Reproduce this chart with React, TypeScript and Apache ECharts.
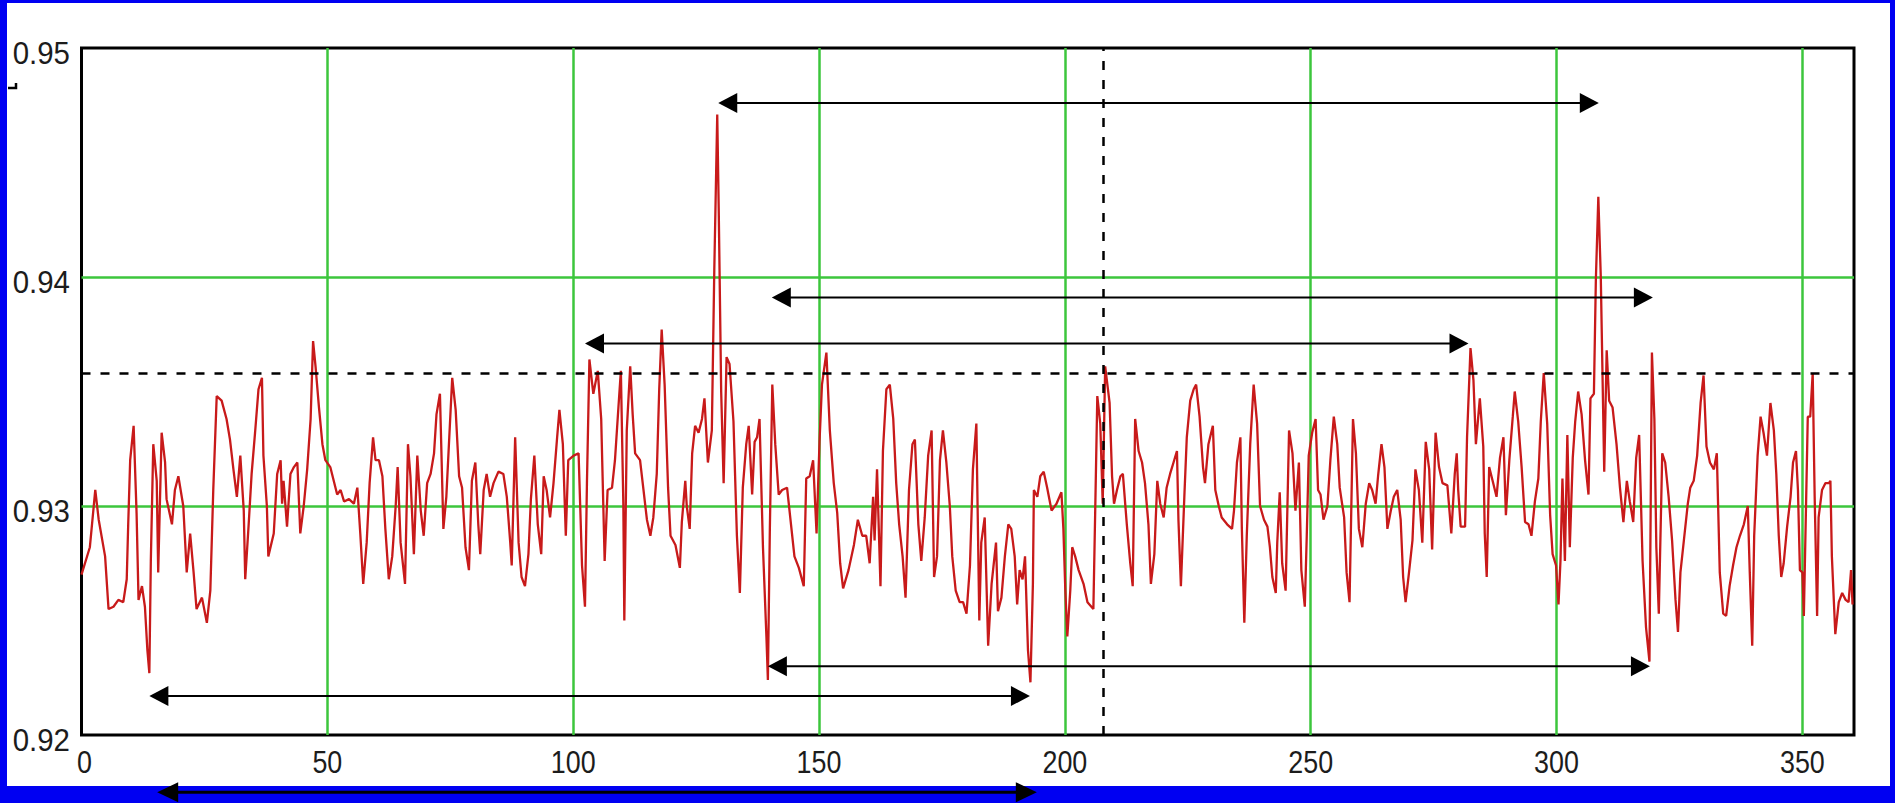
import React, { useEffect, useRef } from "react";
import * as echarts from "echarts";

// ---- data (x in samples, y in value units) ----
const trace000: number[][] = [
  [0, 0.927], [1.7, 0.9282], [2.8, 0.9307], [3.5, 0.9294], [4.8, 0.9278], [5.5, 0.9255], [6.5, 0.9256], [7.5, 0.9259],
  [8.5, 0.9258], [9.2, 0.9268], [9.5, 0.9292], [9.9, 0.932], [10.6, 0.9335], [11.2, 0.9297], [11.6, 0.9259], [12.3, 0.9265],
  [12.9, 0.9256], [13.4, 0.9237], [13.8, 0.9227], [14.1, 0.9276], [14.6, 0.9327], [15.3, 0.9311], [15.6, 0.9271], [16.3, 0.9332],
  [17.0, 0.9319], [17.3, 0.9303], [18.4, 0.9292], [19.0, 0.9307], [19.7, 0.9313], [20.7, 0.93], [21.4, 0.9271], [22.1, 0.9288],
  [22.8, 0.9271], [23.4, 0.9255], [24.5, 0.926], [25.5, 0.9249], [26.2, 0.9263], [26.8, 0.9307], [27.5, 0.9348], [28.5, 0.9346],
  [29.5, 0.9338], [30.2, 0.9329], [30.9, 0.9316], [31.6, 0.9304], [32.3, 0.9322], [33.0, 0.9298], [33.3, 0.9268], [34.0, 0.9292],
  [34.6, 0.9314], [35.3, 0.9332], [36.0, 0.9351], [36.7, 0.9356], [37.0, 0.9322], [37.7, 0.93], [38.0, 0.9278],
];
const trace040: number[][] = [
  [39.1, 0.9288], [39.8, 0.9314], [40.5, 0.932], [40.8, 0.9301], [41.1, 0.9311], [41.8, 0.9291], [42.5, 0.9314], [43.2, 0.9317],
  [43.9, 0.9319], [44.5, 0.9288], [45.2, 0.93], [45.9, 0.9316], [46.6, 0.9338], [47.1, 0.9372], [47.6, 0.9361], [48.3, 0.9343],
  [49.0, 0.9327], [49.6, 0.932], [50.6, 0.9317], [51.3, 0.9311], [52.0, 0.9305], [52.7, 0.9307], [53.4, 0.9302], [54.4, 0.9303],
  [55.4, 0.9301], [56.1, 0.9308], [56.7, 0.9288], [57.3, 0.9266], [58.0, 0.9284], [58.6, 0.931], [59.3, 0.933], [59.8, 0.932],
  [60.5, 0.932], [61.2, 0.9313], [61.8, 0.929], [62.5, 0.9268], [63.2, 0.9278], [63.9, 0.93], [64.3, 0.9317], [64.9, 0.9284],
  [65.8, 0.9266], [66.4, 0.9327], [66.9, 0.9313], [67.6, 0.9279], [68.3, 0.9322], [69.0, 0.9298], [69.6, 0.9287], [70.3, 0.931],
  [71.0, 0.9314], [71.7, 0.9323], [72.2, 0.934], [72.9, 0.9349], [73.6, 0.929], [74.2, 0.9304], [74.8, 0.933], [75.4, 0.9356],
  [76.1, 0.9342], [76.8, 0.9313], [77.4, 0.9308], [78.1, 0.9282], [78.8, 0.9272],
];
const trace080: number[][] = [
  [79.4, 0.9311], [80.1, 0.9319], [80.7, 0.9292], [81.1, 0.9279], [81.8, 0.9307], [82.4, 0.9314], [83.1, 0.9304], [83.8, 0.931],
  [84.8, 0.9315], [85.8, 0.9314], [86.5, 0.9304], [87.2, 0.9284], [87.5, 0.9274], [88.2, 0.933], [88.9, 0.9284], [89.5, 0.9269],
  [90.2, 0.9265], [90.9, 0.9279], [91.4, 0.9303], [92.1, 0.9322], [92.8, 0.9292], [93.5, 0.9279], [94.0, 0.9313], [94.6, 0.9307],
  [95.3, 0.9295], [96.0, 0.931], [96.7, 0.9329], [97.2, 0.9342], [97.9, 0.9327], [98.5, 0.9287], [99.0, 0.932], [100.1, 0.9322],
  [101.1, 0.9323], [101.8, 0.9274], [102.4, 0.9256], [102.8, 0.931], [103.3, 0.9364], [104.1, 0.9349], [105.0, 0.9359], [105.7, 0.9338],
  [106.4, 0.9276], [107.0, 0.9307], [107.9, 0.9308], [108.5, 0.932], [109.2, 0.9343], [109.7, 0.9359], [110.2, 0.9301], [110.4, 0.925],
  [110.9, 0.9333], [111.6, 0.9361], [112.1, 0.934], [112.6, 0.9323], [113.6, 0.932], [114.3, 0.9307], [115.0, 0.9294], [115.7, 0.9287],
  [116.3, 0.9295], [117.0, 0.9314], [117.5, 0.9351], [118.0, 0.9377], [118.6, 0.9353], [119.3, 0.9308],
];
const trace120: number[][] = [
  [119.8, 0.9287], [120.8, 0.9283], [121.7, 0.9273], [122.1, 0.9293], [122.8, 0.9311], [123.1, 0.93], [123.7, 0.929], [124.2, 0.9323],
  [124.8, 0.9335], [125.5, 0.9332], [126.2, 0.9338], [126.7, 0.9347], [127.4, 0.9319], [128.2, 0.9333], [128.7, 0.9403], [129.3, 0.9471],
  [129.6, 0.943], [130.1, 0.935], [130.6, 0.931], [131.2, 0.9365], [131.8, 0.9362], [132.6, 0.9337], [133.3, 0.9287], [133.9, 0.9262],
  [134.5, 0.9308], [135.2, 0.9327], [135.7, 0.9335], [136.4, 0.9305], [136.9, 0.9328], [137.4, 0.933], [137.9, 0.9338], [138.6, 0.9282],
  [139.3, 0.9243], [139.6, 0.9224], [140.0, 0.929], [140.5, 0.9353], [141.1, 0.9327], [141.8, 0.9305], [142.5, 0.9307], [143.5, 0.9308],
  [144.3, 0.9292], [145.0, 0.9278], [145.9, 0.9273], [146.9, 0.9265], [147.4, 0.9312], [148.1, 0.9313], [148.8, 0.932], [149.5, 0.9288],
  [150.1, 0.9328], [150.6, 0.9353], [151.5, 0.9367], [152.2, 0.9333], [153.0, 0.931], [153.7, 0.9297], [154.3, 0.9275], [154.9, 0.9264],
  [156.0, 0.9272], [157.1, 0.9283], [157.9, 0.9294], [158.8, 0.9287],
];
const trace160: number[][] = [
  [159.6, 0.9287], [160.3, 0.9275], [161.0, 0.9304], [161.3, 0.9285], [161.8, 0.9316], [162.5, 0.9265], [163.0, 0.9324], [163.7, 0.9351],
  [164.4, 0.9353], [165.1, 0.9338], [165.7, 0.931], [166.3, 0.9292], [167.0, 0.9278], [167.6, 0.926], [168.3, 0.9307], [169.0, 0.9327],
  [169.5, 0.9329], [170.2, 0.9292], [170.8, 0.9276], [171.5, 0.9295], [172.2, 0.9322], [172.9, 0.9333], [173.4, 0.9269], [174.0, 0.9278],
  [174.6, 0.932], [175.2, 0.9333], [175.9, 0.9319], [176.6, 0.93], [177.1, 0.9278], [177.8, 0.9263], [178.6, 0.9258], [179.3, 0.9258],
  [180.0, 0.9253], [180.7, 0.9274], [181.3, 0.9316], [182.0, 0.9336], [182.6, 0.925], [183.0, 0.9284], [183.7, 0.9295], [184.4, 0.9239],
  [185.1, 0.9266], [186.0, 0.9284], [186.4, 0.9254], [187.1, 0.926], [187.8, 0.9278], [188.5, 0.9292], [189.1, 0.929], [189.8, 0.9278],
  [190.3, 0.9257], [190.8, 0.9272], [191.4, 0.9268], [191.9, 0.9278], [192.5, 0.9237], [193.0, 0.9223], [193.5, 0.9266], [193.7, 0.9307],
  [194.4, 0.9304], [195.0, 0.9313], [195.7, 0.9315], [196.4, 0.9308], [197.3, 0.9298], [198.3, 0.9301], [199.3, 0.9306],
];
const trace200: number[][] = [
  [199.7, 0.929], [200.1, 0.9263], [200.5, 0.9243], [201.1, 0.9263], [201.5, 0.9282], [202.1, 0.9278], [202.8, 0.9272], [203.8, 0.9266],
  [204.6, 0.9258], [205.8, 0.9255], [206.2, 0.9301], [206.6, 0.9348], [207.2, 0.9336], [207.7, 0.9301], [208.2, 0.9361], [209.1, 0.9345],
  [209.6, 0.9313], [210.0, 0.9301], [210.6, 0.9307], [211.3, 0.9313], [211.8, 0.9314], [212.6, 0.9292], [213.3, 0.9275], [213.8, 0.9265],
  [214.3, 0.9338], [215.0, 0.9324], [215.7, 0.9319], [216.3, 0.931], [217.0, 0.9292], [217.5, 0.9266], [218.2, 0.9279], [218.8, 0.9311],
  [219.4, 0.9301], [220.1, 0.9295], [220.7, 0.9308], [221.4, 0.9314], [222.1, 0.9319], [222.8, 0.9324], [223.1, 0.9294], [223.6, 0.9265],
  [224.3, 0.9304], [224.8, 0.933], [225.5, 0.9346], [226.2, 0.9351], [226.7, 0.9353], [227.4, 0.9339], [228.1, 0.9317], [228.5, 0.931],
  [229.2, 0.9327], [230.1, 0.9335], [230.6, 0.9307], [231.3, 0.93], [231.9, 0.9295], [233.0, 0.9292], [234.0, 0.929], [234.4, 0.9298],
  [235.0, 0.9319], [235.7, 0.933], [236.0, 0.929], [236.5, 0.9249], [237.0, 0.9287], [237.7, 0.9327], [238.4, 0.9353], [239.1, 0.9336],
];
const trace240: number[][] = [
  [239.7, 0.93], [240.5, 0.9294], [241.2, 0.9291], [241.7, 0.9282], [242.2, 0.9269], [242.9, 0.9262], [243.2, 0.9284], [243.7, 0.9306],
  [244.2, 0.9275], [244.9, 0.9263], [245.6, 0.9333], [246.3, 0.9323], [246.9, 0.9298], [247.6, 0.9319], [248.1, 0.9272], [248.8, 0.9256],
  [249.2, 0.9287], [249.6, 0.9322], [250.3, 0.9332], [251.0, 0.9338], [251.5, 0.9307], [252.0, 0.9305], [252.6, 0.9294], [253.4, 0.93],
  [254.0, 0.932], [254.7, 0.9339], [255.4, 0.9327], [255.9, 0.9308], [256.8, 0.9295], [257.3, 0.9271], [257.9, 0.9258], [258.6, 0.9338],
  [259.2, 0.9323], [259.8, 0.929], [260.5, 0.9282], [261.2, 0.9301], [261.9, 0.931], [262.5, 0.9307], [263.2, 0.9301], [263.7, 0.9313],
  [264.4, 0.9327], [265.0, 0.9317], [265.6, 0.929], [266.3, 0.9298], [266.9, 0.9304], [267.6, 0.9307], [268.3, 0.9294], [268.8, 0.9269],
  [269.3, 0.9258], [270.0, 0.9271], [270.7, 0.9285], [271.3, 0.9316], [272.0, 0.9307], [272.7, 0.9284], [273.4, 0.9328], [274.1, 0.9316],
  [274.7, 0.9281], [275.4, 0.9332], [276.1, 0.9317], [276.8, 0.931], [277.8, 0.9309], [278.6, 0.9288], [279.3, 0.9314],
];
const trace280: number[][] = [
  [279.7, 0.9323], [280.0, 0.9307], [280.5, 0.9291], [281.4, 0.9291], [281.8, 0.933], [282.5, 0.9369], [283.1, 0.9355], [283.6, 0.9327],
  [284.4, 0.9347], [285.1, 0.9326], [285.4, 0.9288], [285.8, 0.9269], [286.3, 0.9317], [287.0, 0.9311], [287.8, 0.9304], [288.5, 0.9321],
  [289.2, 0.933], [289.7, 0.9296], [290.4, 0.932], [291.1, 0.9339], [291.5, 0.935], [292.2, 0.9337], [292.9, 0.9317], [293.6, 0.9293],
  [294.3, 0.9292], [294.9, 0.9287], [295.6, 0.9302], [296.3, 0.9312], [296.8, 0.9337], [297.4, 0.9358], [298.1, 0.9336], [298.7, 0.9296],
  [299.2, 0.9279], [299.9, 0.9274], [300.4, 0.9257], [300.8, 0.9276], [301.2, 0.9312], [301.7, 0.9276], [302.2, 0.9331], [302.7, 0.9282],
  [303.3, 0.9321], [303.8, 0.9337], [304.4, 0.935], [305.1, 0.934], [305.8, 0.932], [306.5, 0.9305], [306.9, 0.9347], [307.6, 0.9349],
  [308.0, 0.9399], [308.5, 0.9435], [309.0, 0.94], [309.7, 0.9315], [310.2, 0.9368], [310.7, 0.9346], [311.4, 0.9343], [312.2, 0.9327],
  [312.9, 0.9308], [313.6, 0.9293], [314.3, 0.9311], [314.9, 0.9302], [315.6, 0.9293], [316.2, 0.9321], [316.8, 0.9331], [317.5, 0.9276],
  [318.2, 0.9247], [318.9, 0.9232],
];
const trace320: number[][] = [
  [319.4, 0.9367], [319.9, 0.9338], [320.3, 0.9282], [320.8, 0.9253], [321.5, 0.9323], [322.1, 0.9319], [322.8, 0.9304], [323.5, 0.9285],
  [324.2, 0.9259], [324.7, 0.9245], [325.2, 0.9271], [325.9, 0.9285], [326.7, 0.9301], [327.2, 0.9308], [327.9, 0.9311], [328.6, 0.9322],
  [329.3, 0.9345], [329.9, 0.9357], [330.5, 0.9326], [331.2, 0.9319], [332.0, 0.9316], [332.6, 0.9323], [333.2, 0.9271], [333.9, 0.9253],
  [334.5, 0.9252], [335.2, 0.9265], [335.9, 0.9274], [336.6, 0.9282], [337.3, 0.9287], [338.1, 0.9292], [338.9, 0.93], [339.3, 0.9271],
  [339.8, 0.9239], [340.2, 0.9287], [340.9, 0.9322], [341.5, 0.9339], [342.1, 0.9332], [342.8, 0.9322], [343.5, 0.9345], [344.2, 0.9333],
  [344.7, 0.9314], [345.2, 0.9287], [345.7, 0.9269], [346.2, 0.9275], [346.9, 0.9291], [347.6, 0.9304], [348.1, 0.9319], [348.7, 0.9324],
  [349.1, 0.9307], [349.5, 0.9272], [350.0, 0.9271], [350.3, 0.9252], [351.1, 0.9339], [351.6, 0.9339], [352.1, 0.9358], [352.5, 0.9304],
  [353.0, 0.9252], [353.3, 0.9295], [354.0, 0.9307], [354.7, 0.931], [355.4, 0.931], [355.7, 0.9311], [356.0, 0.9278], [356.7, 0.9244],
  [357.4, 0.9258], [358.1, 0.9262], [358.8, 0.9259], [359.4, 0.9258], [359.9, 0.9272], [360.2, 0.9257],
];

// tick labels
const xTickValues = [0, 50, 100, 150, 200, 250, 300, 350];
const xTickLabels = ["0", "50", "100", "150", "200", "250", "300", "350"];
const yTickValues = [0.92, 0.93, 0.94, 0.95];
const yTickLabels = ["0.92", "0.93", "0.94", "0.95"];

// double-headed arrows (x of the two tips, y level); the last one lies below the plot
const arrowFromX = [129.5, 140.4, 102.4, 139.6, 13.8, 15.4];
const arrowToX = [308.6, 319.6, 282.1, 319.0, 192.9, 194.3];
const arrowLevelY = [0.9476, 0.9391, 0.9371, 0.923, 0.9217, 0.9175];
// dashed cursor lines
const cursorX = 207.9;
const cursorY = 0.9358;

const xRange = [0, 360.5];
const yRange = [0.92, 0.95];

const LABEL_FONT = '32px "Liberation Sans", Arial, sans-serif';

export default function App() {
  const ref = useRef<HTMLDivElement>(null);

  useEffect(() => {
    document.body.style.margin = "0";
    if (!ref.current) return;
    const chart = echarts.init(ref.current, undefined, { renderer: "svg" });
    const trace = [
      ...trace000, ...trace040, ...trace080, ...trace120, ...trace160,
      ...trace200, ...trace240, ...trace280, ...trace320,
    ];

    chart.setOption({
      animation: false,
      backgroundColor: "#ffffff",
      grid: {
        left: 81.5,
        right: 41,
        top: 48,
        bottom: 68,
        show: true,
        borderColor: "#000000",
        borderWidth: 3,
        backgroundColor: "#ffffff",
      },
      xAxis: {
        type: "value",
        min: xRange[0],
        max: xRange[1],
        interval: 50,
        axisLine: { show: false },
        axisTick: { show: false },
        axisLabel: { show: false },
        splitLine: {
          show: true,
          showMinLine: false,
          showMaxLine: false,
          lineStyle: { color: "#3cc63c", width: 2.5 },
        },
      },
      yAxis: {
        type: "value",
        min: yRange[0],
        max: yRange[1],
        interval: 0.01,
        axisLine: { show: false },
        axisTick: { show: false },
        axisLabel: { show: false },
        splitLine: {
          show: true,
          showMinLine: false,
          showMaxLine: false,
          lineStyle: { color: "#3cc63c", width: 2.5 },
        },
      },
      series: [
        {
          type: "line",
          data: trace,
          showSymbol: false,
          symbol: "none",
          lineStyle: { color: "#c81a1a", width: 2.3 },
          emphasis: { disabled: true },
          z: 3,
        },
        {
          type: "line",
          data: [],
          z: 4,
          markLine: {
            silent: true,
            symbol: ["none", "none"],
            label: { show: false },
            lineStyle: { color: "#000000", width: 2.5, type: [9, 10] },
            data: [
              [{ coord: [cursorX, yRange[0]] }, { coord: [cursorX, yRange[1]] }],
              [{ coord: [xRange[0], cursorY] }, { coord: [xRange[1], cursorY] }],
            ],
          },
        },
      ],
    });

    const toPx = (x: number, y: number) =>
      chart.convertToPixel({ gridIndex: 0 }, [x, y]) as number[];

    const W = 1895;
    const H = 803;
    const blue = "#0000f2";
    const graphics: any[] = [
      { type: "rect", z: 100, shape: { x: 0, y: 0, width: W, height: 3 }, style: { fill: blue } },
      { type: "rect", z: 100, shape: { x: 0, y: 0, width: 7, height: H }, style: { fill: blue } },
      { type: "rect", z: 100, shape: { x: W - 5, y: 0, width: 5, height: H }, style: { fill: blue } },
      { type: "rect", z: 100, shape: { x: 0, y: 786, width: W, height: H - 786 }, style: { fill: blue } },
      {
        type: "polyline",
        z: 101,
        shape: { points: [[8, 88], [16, 88], [16, 83]] },
        style: { stroke: "#000000", lineWidth: 2.5, fill: null },
      },
    ];

    arrowLevelY.forEach((y, i) => {
      const a = toPx(arrowFromX[i], y);
      const b = toPx(arrowToX[i], y);
      const below = i === arrowLevelY.length - 1;
      const head = below ? 21 : 19;
      const half = 10;
      graphics.push(
        {
          type: "line",
          z: 101,
          shape: { x1: a[0] + head - 2, y1: a[1], x2: b[0] - head + 2, y2: b[1] },
          style: { stroke: "#000000", lineWidth: below ? 3 : 2 },
        },
        {
          type: "polygon",
          z: 101,
          shape: { points: [[a[0], a[1]], [a[0] + head, a[1] - half], [a[0] + head, a[1] + half]] },
          style: { fill: "#000000" },
        },
        {
          type: "polygon",
          z: 101,
          shape: { points: [[b[0], b[1]], [b[0] - head, b[1] - half], [b[0] - head, b[1] + half]] },
          style: { fill: "#000000" },
        }
      );
    });

    // tick labels, slightly condensed like the reference font
    xTickValues.forEach((v, i) => {
      const p = toPx(v, yRange[0]);
      graphics.push({
        type: "text",
        z: 90,
        x: p[0] + (i === 0 ? 3 : 0),
        y: p[1] + 27,
        scaleX: 0.84,
        style: {
          text: xTickLabels[i],
          font: LABEL_FONT,
          fill: "#1c1c1c",
          align: "center",
          verticalAlign: "middle",
        },
      });
    });
    yTickValues.forEach((v, i) => {
      const p = toPx(xRange[0], v);
      graphics.push({
        type: "text",
        z: 90,
        x: 70,
        y: p[1] + 5,
        scaleX: 0.92,
        style: {
          text: yTickLabels[i],
          font: LABEL_FONT,
          fill: "#1c1c1c",
          align: "right",
          verticalAlign: "middle",
        },
      });
    });

    chart.setOption({ graphic: graphics });

    return () => chart.dispose();
  }, []);

  return <div ref={ref} style={{ width: 1895, height: 803 }} />;
}
